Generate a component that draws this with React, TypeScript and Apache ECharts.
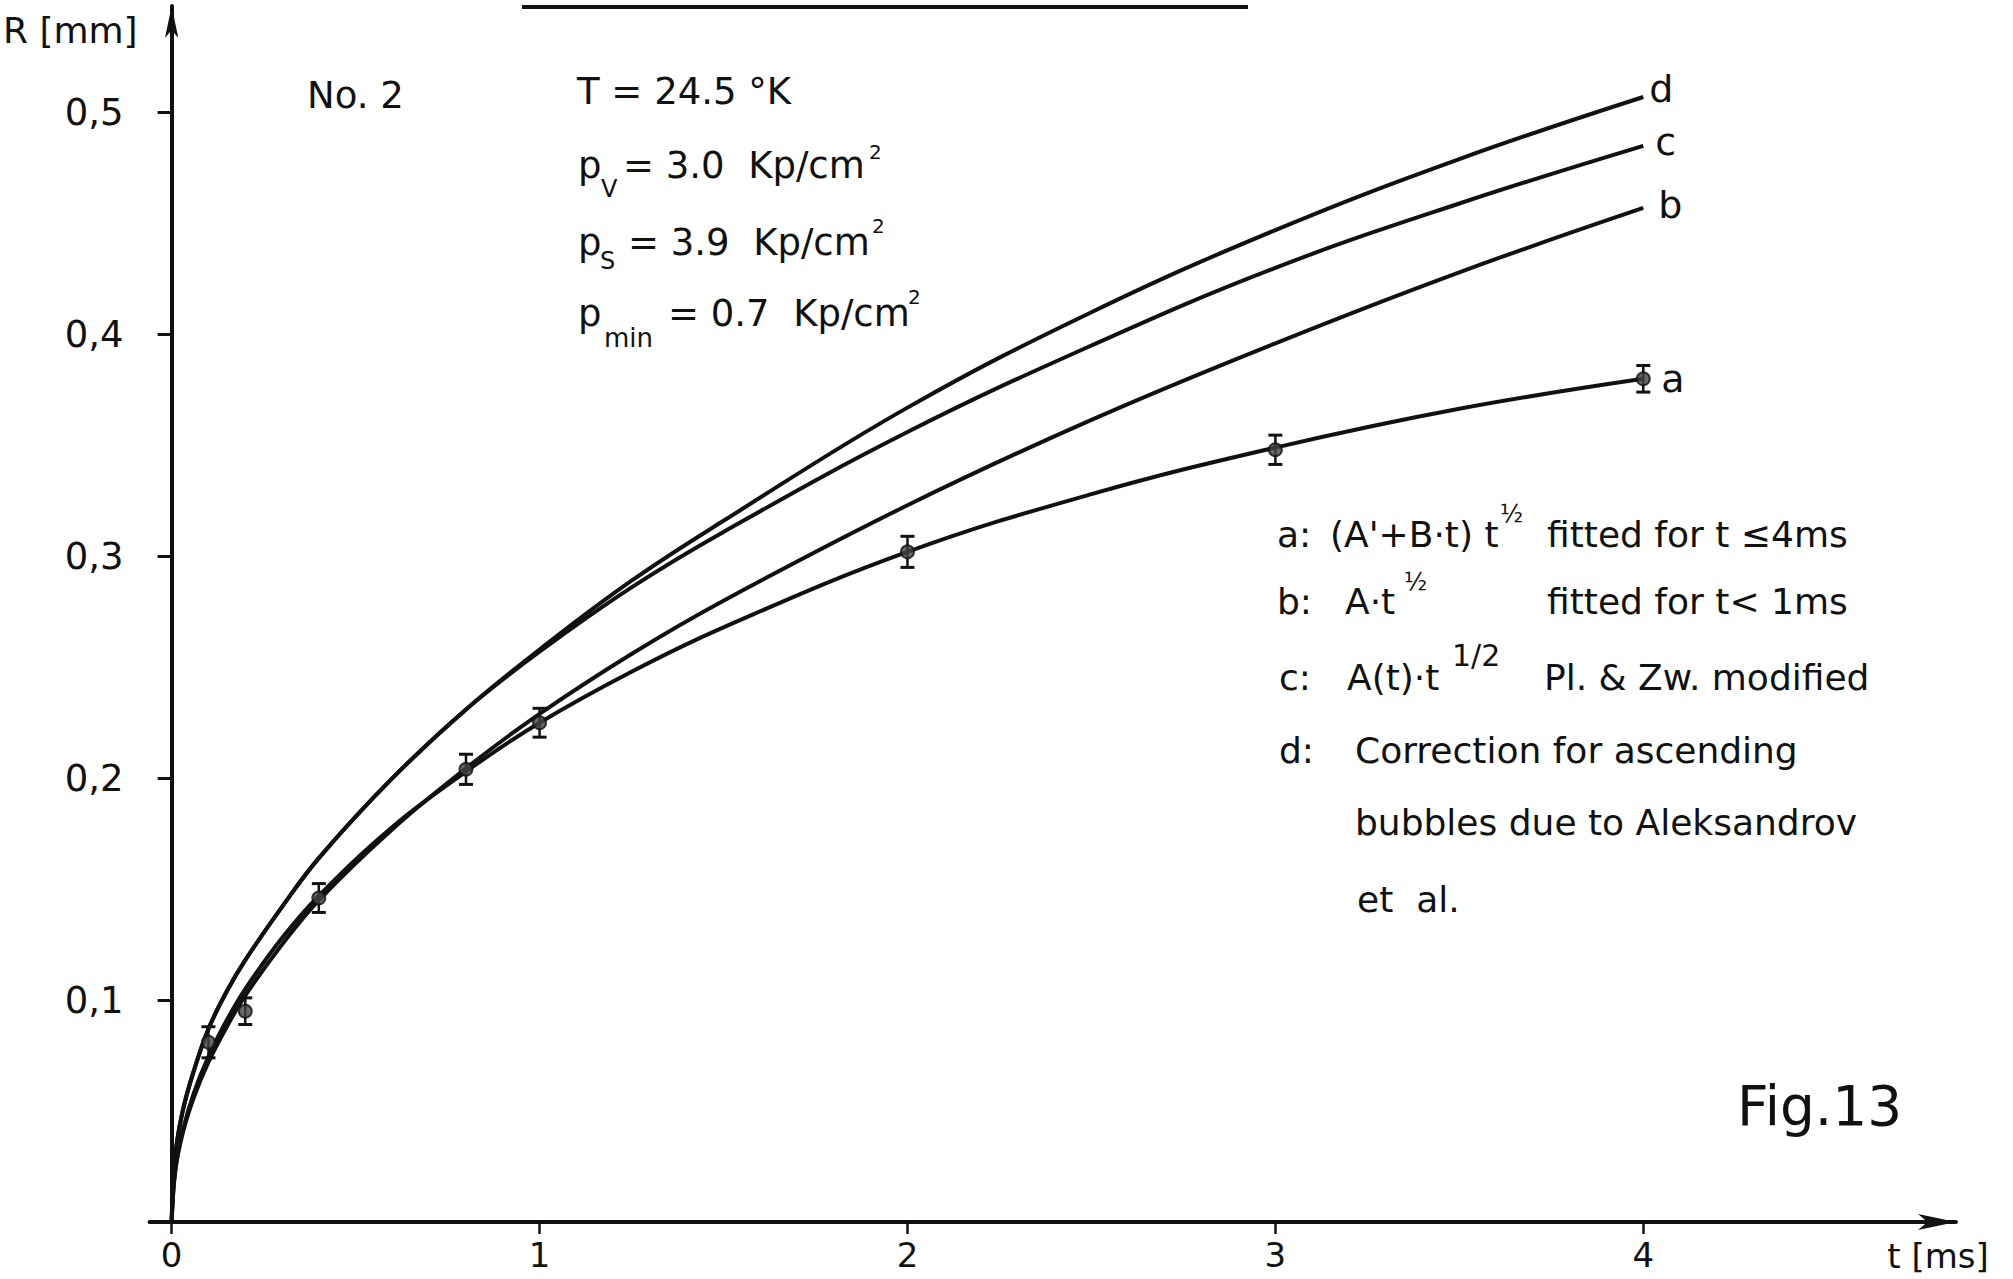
import React, { useEffect, useRef } from "react";
import * as echarts from "echarts";

// ---- data ----
const tGrid = [0, 0.01, 0.03, 0.06, 0.1, 0.15, 0.2, 0.3, 0.4, 0.6, 0.8, 1.0, 1.25, 1.5, 2.0, 2.5, 3.0, 3.5, 4.0];
const curveD = [0, 0.030, 0.050, 0.068, 0.087, 0.104, 0.118, 0.142, 0.164, 0.200, 0.231, 0.258, 0.289, 0.316, 0.367, 0.410, 0.447, 0.479, 0.507];
const curveC = [0, 0.030, 0.050, 0.068, 0.087, 0.104, 0.118, 0.142, 0.164, 0.200, 0.231, 0.257, 0.286, 0.311, 0.356, 0.395, 0.430, 0.459, 0.485];
const curveB = [0, 0.023, 0.040, 0.056, 0.072, 0.088, 0.102, 0.125, 0.145, 0.177, 0.2045, 0.229, 0.256, 0.280, 0.323, 0.3615, 0.396, 0.428, 0.457];
const curveA = [0, 0.024, 0.041, 0.058, 0.0745, 0.091, 0.105, 0.128, 0.147, 0.178, 0.203, 0.225, 0.248, 0.268, 0.302, 0.328, 0.349, 0.3665, 0.380];

const pointT = [0.1, 0.2, 0.4, 0.8, 1.0, 2.0, 3.0, 4.0];
const pointR = [0.081, 0.095, 0.146, 0.204, 0.225, 0.302, 0.348, 0.380];
const pointErr = [0.007, 0.006, 0.0065, 0.0068, 0.0065, 0.007, 0.0066, 0.006];

const xTicks = [0, 1, 2, 3, 4];
const yTicks = [0.1, 0.2, 0.3, 0.4, 0.5];

const INK = "#111";
const FONT = "'DejaVu Sans', sans-serif";

function txt(text: string, x: number, y: number, size: number, align: string = "left") {
  return {
    type: "text",
    x,
    y,
    silent: true,
    style: { text, fill: INK, font: `${size}px ${FONT}`, align, verticalAlign: "middle" },
  };
}

function pairs(ys: number[]) {
  return tGrid.map((t, i) => [t, ys[i]]);
}

function curve(name: string, ys: number[], label: string, offset: number[]) {
  return {
    name,
    type: "line",
    data: pairs(ys),
    smooth: 0.4,
    showSymbol: false,
    lineStyle: { color: INK, width: 4 },
    endLabel: {
      show: true,
      formatter: label,
      color: INK,
      fontSize: 38,
      fontFamily: FONT,
      distance: 0,
      offset,
    },
    z: 3,
  };
}

export default function App() {
  const ref = useRef<HTMLDivElement>(null);
  useEffect(() => {
    document.body.style.margin = "0";
    const chart = echarts.init(ref.current!, null, { renderer: "svg" });
    const option: any = {
      animation: false,
      backgroundColor: "#fff",
      textStyle: { fontFamily: FONT, color: INK },
      grid: { left: 147, right: 57, top: 6, bottom: 57 },
      xAxis: {
        type: "value",
        min: -0.06,
        max: 4.85,
        name: "t [ms]",
        nameLocation: "end",
        nameGap: -18,
        nameTextStyle: { fontSize: 34, lineHeight: 36, color: INK, align: "center", verticalAlign: "top", padding: [16, 0, 0, 0] },
        axisLine: { show: true, onZero: true, symbol: ["none", "arrow"], symbolSize: [12, 38], lineStyle: { color: INK, width: 4 } },
        axisTick: { show: true, customValues: xTicks, length: 12, lineStyle: { color: INK, width: 2.5 } },
        axisLabel: {
          show: true,
          customValues: xTicks,
          fontSize: 34,
          lineHeight: 34,
          color: INK,
          margin: 16,
          formatter: (v: number) => String(v),
        },
        splitLine: { show: false },
      },
      yAxis: {
        type: "value",
        min: 0,
        max: 0.548,
        name: "R [mm]",
        nameLocation: "end",
        nameGap: -24,
        nameTextStyle: { fontSize: 36, color: INK, align: "right", verticalAlign: "middle", padding: [0, 34, 0, 0] },
        axisLine: { show: true, onZero: true, symbol: ["none", "arrow"], symbolSize: [10, 32], lineStyle: { color: INK, width: 4 } },
        axisTick: { show: true, customValues: yTicks, length: 14, lineStyle: { color: INK, width: 3 } },
        axisLabel: {
          show: true,
          customValues: yTicks,
          fontSize: 37,
          color: INK,
          margin: 26,
          formatter: (v: number) => v.toFixed(1).replace(".", ","),
        },
        splitLine: { show: false },
      },
      series: [
        curve("d", curveD, "d", [6, -8]),
        curve("c", curveC, "c", [12, -4]),
        curve("b", curveB, "b", [15, -3]),
        curve("a", curveA, "a", [18, 0]),
        {
          name: "error",
          type: "custom",
          data: pointT.map((t, i) => [t, pointR[i], pointErr[i]]),
          encode: { x: 0, y: 1 },
          renderItem: (params: any, api: any) => {
            const x = api.value(0);
            const y = api.value(1);
            const e = api.value(2);
            const top = api.coord([x, y + e]);
            const bot = api.coord([x, y - e]);
            const cap = 7;
            return {
              type: "group",
              children: [
                { type: "line", shape: { x1: top[0], y1: top[1], x2: bot[0], y2: bot[1] }, style: { stroke: INK, lineWidth: 2.5 } },
                { type: "line", shape: { x1: top[0] - cap, y1: top[1], x2: top[0] + cap, y2: top[1] }, style: { stroke: INK, lineWidth: 3 } },
                { type: "line", shape: { x1: bot[0] - cap, y1: bot[1], x2: bot[0] + cap, y2: bot[1] }, style: { stroke: INK, lineWidth: 3 } },
              ],
            };
          },
          z: 4,
        },
        {
          name: "measured",
          type: "scatter",
          data: pointT.map((t, i) => [t, pointR[i]]),
          symbol: "circle",
          symbolSize: 13,
          itemStyle: { color: "#444", borderColor: INK, borderWidth: 2 },
          z: 5,
        },
      ],
      graphic: [
        { type: "line", silent: true, shape: { x1: 522, y1: 7, x2: 1248, y2: 7 }, style: { stroke: INK, lineWidth: 4 } },
        txt("No. 2", 307, 95, 37),
        txt("T = 24.5 °K", 577, 91, 37),
        txt("p", 578, 165, 37),
        txt("V", 601, 189, 24),
        txt("= 3.0  Kp/cm", 623, 165, 37),
        txt("2", 869, 152, 20),
        txt("p", 578, 242, 37),
        txt("S", 600, 261, 24),
        txt("= 3.9  Kp/cm", 628, 242, 37),
        txt("2", 872, 226, 20),
        txt("p", 578, 313, 37),
        txt("min", 604, 338, 26),
        txt("= 0.7  Kp/cm", 668, 313, 37),
        txt("2", 908, 297, 20),
        txt("a:", 1277, 534, 36),
        txt("(A'+B·t) t", 1330, 534, 36),
        txt("½", 1500, 514, 24),
        txt("fitted for t ≤4ms", 1547, 534, 36),
        txt("b:", 1277, 601, 36),
        txt("A·t", 1345, 601, 36),
        txt("½", 1404, 582, 24),
        txt("fitted for t< 1ms", 1547, 601, 36),
        txt("c:", 1279, 677, 36),
        txt("A(t)·t", 1347, 677, 36),
        txt("1/2", 1452, 655, 30),
        txt("Pl. & Zw. modified", 1544, 677, 36),
        txt("d:", 1279, 750, 36),
        txt("Correction for ascending", 1355, 750, 36),
        txt("bubbles due to Aleksandrov", 1355, 822, 36),
        txt("et  al.", 1357, 899, 36),
        txt("Fig.13", 1737, 1106, 55),
      ],
    };
    chart.setOption(option);
    return () => chart.dispose();
  }, []);
  return (
    <div
      ref={ref}
      style={{ position: "fixed", left: 0, top: 0, width: "2013px", height: "1279px", background: "#fff" }}
    />
  );
}
